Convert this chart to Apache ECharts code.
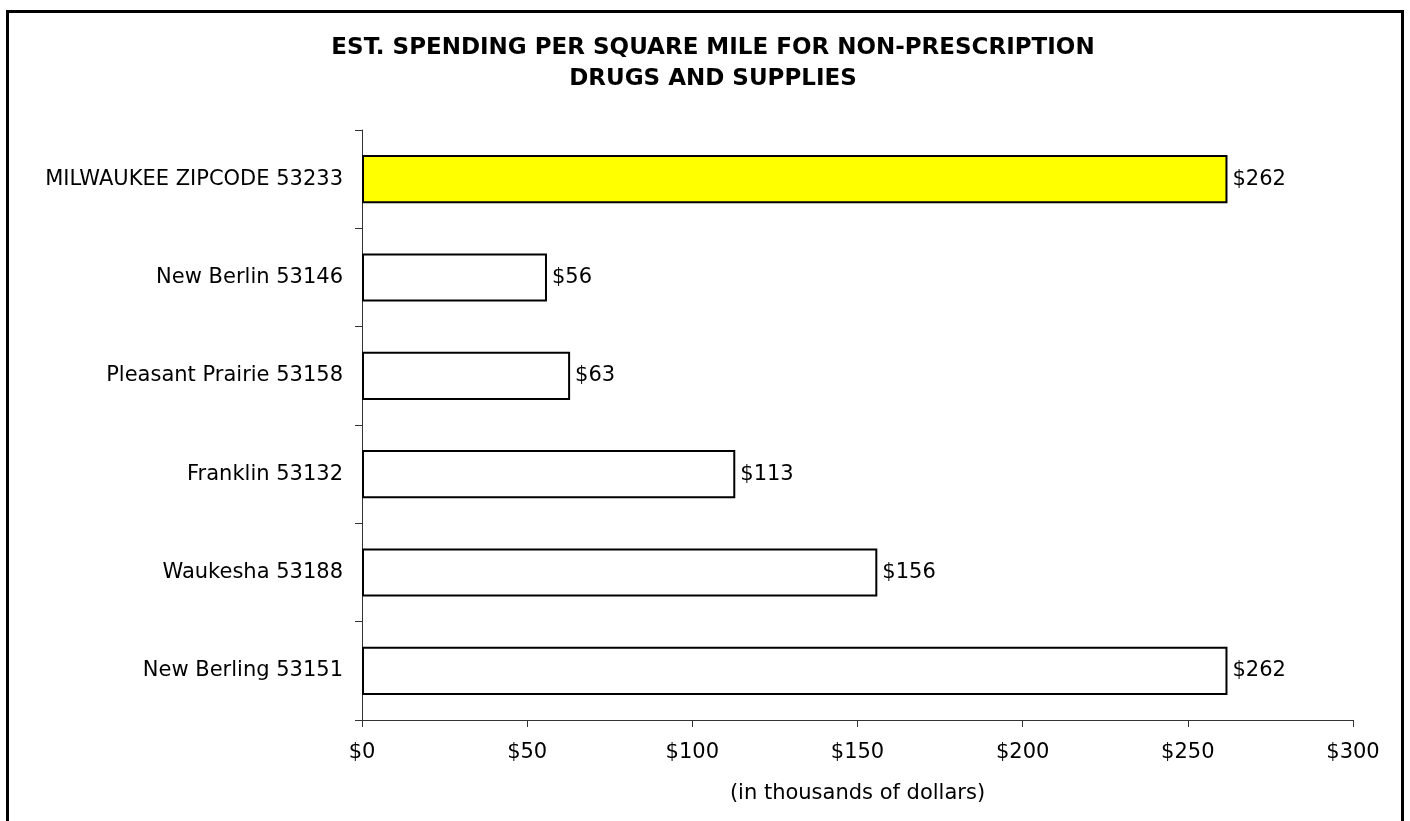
<!DOCTYPE html>
<html><head><meta charset="utf-8">
<script src="https://cdn.jsdelivr.net/npm/echarts@6/dist/echarts.min.js"></script>
<style>html,body{margin:0;padding:0;background:#fff}#c{width:1410px;height:821px}</style>
</head><body><div id="c"></div>
<script>
const categories = ["MILWAUKEE ZIPCODE 53233","New Berlin 53146","Pleasant Prairie 53158","Franklin 53132","Waukesha 53188","New Berling 53151"];
const values = [262, 56, 63, 113, 156, 262];
const barColors = ["#FFFF00","#FFFFFF","#FFFFFF","#FFFFFF","#FFFFFF","#FFFFFF"];
const titleText = "EST. SPENDING PER SQUARE MILE FOR NON-PRESCRIPTION\nDRUGS AND SUPPLIES";
const axisName = "(in thousands of dollars)";
const FONT = "DejaVu Sans";
const chart = echarts.init(document.getElementById('c'), null, {renderer:'canvas'});
chart.setOption({
  animation:false,
  backgroundColor:'#fff',
  title:{text:titleText,left:708,top:28,textAlign:'center',
    textStyle:{fontFamily:FONT,fontWeight:'bold',fontSize:23,lineHeight:31,color:'#000'}},
  graphic:[{type:'rect',shape:{x:7.5,y:11.5,width:1395,height:840},style:{fill:null,stroke:'#000',lineWidth:3},silent:true}],
  grid:{left:362,right:57,top:130,bottom:101,containLabel:false},
  xAxis:{type:'value',min:0,max:300,interval:50,
    axisLine:{show:true,lineStyle:{color:'#333',width:1}},
    axisTick:{show:true,length:7,lineStyle:{color:'#333'}},
    splitLine:{show:false},
    axisLabel:{formatter:v=>'$'+v,fontFamily:FONT,fontSize:21,color:'#000',margin:22},
    name:axisName,nameLocation:'middle',nameGap:63,
    nameTextStyle:{fontFamily:FONT,fontSize:21,color:'#000'}},
  yAxis:{type:'category',data:categories,inverse:true,
    axisLine:{show:true,lineStyle:{color:'#333',width:1}},
    axisTick:{show:true,length:7,inside:false,lineStyle:{color:'#333'}},
    axisLabel:{fontFamily:FONT,fontSize:21,color:'#000',margin:19}},
  series:[{type:'bar',barWidth:'49%',
    data:values.map((v,i)=>({value:v,itemStyle:{color:barColors[i]}})),
    itemStyle:{borderColor:'#000',borderWidth:2},
    label:{show:true,position:'right',distance:5,formatter:p=>'$'+p.value,fontFamily:FONT,fontSize:21,color:'#000'}}]
});
</script></body></html>
